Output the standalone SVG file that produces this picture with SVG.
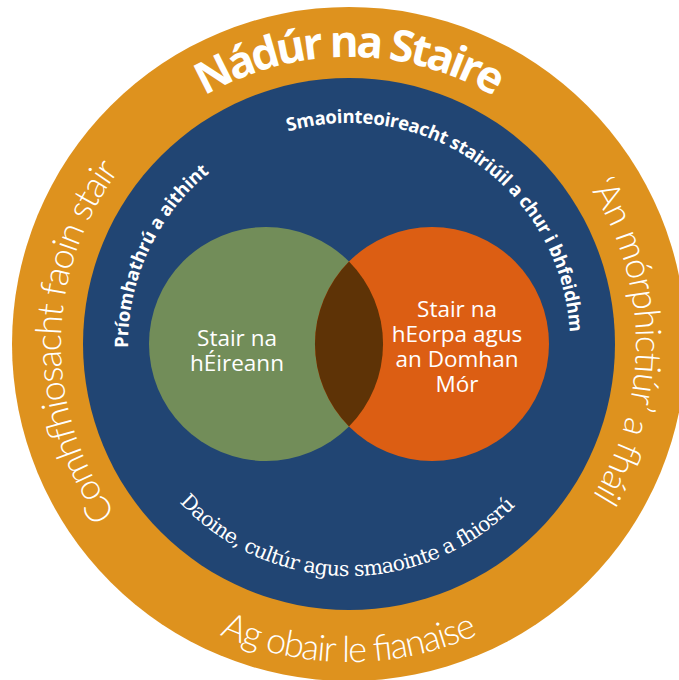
<svg xmlns="http://www.w3.org/2000/svg" width="679" height="680" viewBox="0 0 679 680">
<style>
  .lbl { fill: #ffffff; }
  .title { font-family: "Open Sans", Lato, sans-serif; font-weight: 700; font-size: 44px; }
  .outer { font-family: Lato, "Open Sans", sans-serif; font-weight: 300; font-size: 36px; }
  .bold { font-family: "Open Sans", Lato, sans-serif; font-weight: 700; font-size: 18.5px; }
  .serif { font-family: "DejaVu Serif", "Liberation Serif", serif; font-size: 20.5px; }
  .venn { font-family: "Open Sans", sans-serif; font-size: 22.5px; text-anchor: middle; }
</style>
<defs>
  <path id="pTitle" d="M184.4,108.9 A287,287 0 0 1 513.6,108.9"/>
  <path id="pSmao" d="M273.4,136.3 A221,221 0 0 1 569.2,363.3"/>
  <path id="pPrio" d="M128.8,363.3 A221,221 0 0 1 222.2,163.0"/>
  <path id="pDaoine" d="M171.3,493.1 A232,232 0 0 0 526.7,493.1"/>
  <path id="pComh" d="M135.0,536.7 A288,288 0 0 1 145.4,140.4"/>
  <path id="pMor" d="M568.8,159.5 A287,287 0 0 1 568.8,528.5"/>
  <path id="pAg" d="M190,619.4 A318,318 0 0 0 508,619.4"/>
</defs>

<g id="outer-ring">
  <circle cx="349" cy="344" r="337" fill="#DE921E"/>
</g>
<g id="inner-ring">
  <circle cx="349" cy="344" r="266" fill="#214573"/>
</g>
<g id="circle-ireland">
  <circle cx="266" cy="344" r="117" fill="#728D59"/>
</g>
<g id="circle-europe">
  <circle cx="432" cy="344" r="117" fill="#DC5E13"/>
</g>
<g id="overlap">
  <path d="M349,261.5 A117,117 0 0 1 349,426.5 A117,117 0 0 1 349,261.5 Z" fill="#5E3306"/>
</g>

<g id="labels-venn" class="lbl venn">
  <text x="237" y="346">Stair na</text>
  <text x="237" y="371">hÉireann</text>
  <text x="457" y="317">Stair na</text>
  <text x="457" y="342">hEorpa agus</text>
  <text x="457" y="367">an Domhan</text>
  <text x="457" y="392">Mór</text>
</g>

<g id="labels-inner-ring" class="lbl">
  <text class="bold"><textPath href="#pSmao" startOffset="15.4" textLength="397" lengthAdjust="spacing">Smaointeoireacht stairiúil a chur i bhfeidhm</textPath></text>
  <text class="bold"><textPath href="#pPrio" startOffset="15.4" textLength="200" lengthAdjust="spacing">Príomhathrú a aithint</textPath></text>
  <text class="serif"><textPath href="#pDaoine" startOffset="12.1" textLength="376" lengthAdjust="spacing">Daoine, cultúr agus smaointe a fhiosrú</textPath></text>
</g>

<g id="labels-outer-ring" class="lbl">
  <text class="title"><textPath href="#pTitle" startOffset="24" textLength="304" lengthAdjust="spacing">Nádúr na Staire</textPath></text>
  <text class="outer"><textPath href="#pComh" startOffset="30.2" textLength="367" lengthAdjust="spacing">Comhfhiosacht faoin stair</textPath></text>
  <text class="outer"><textPath href="#pMor" startOffset="35.1" textLength="325" lengthAdjust="spacing">‘An mórphictiúr’ a fháil</textPath></text>
  <text class="outer"><textPath href="#pAg" startOffset="33.3" textLength="266" lengthAdjust="spacing">Ag obair le fianaise</textPath></text>
</g>
</svg>
